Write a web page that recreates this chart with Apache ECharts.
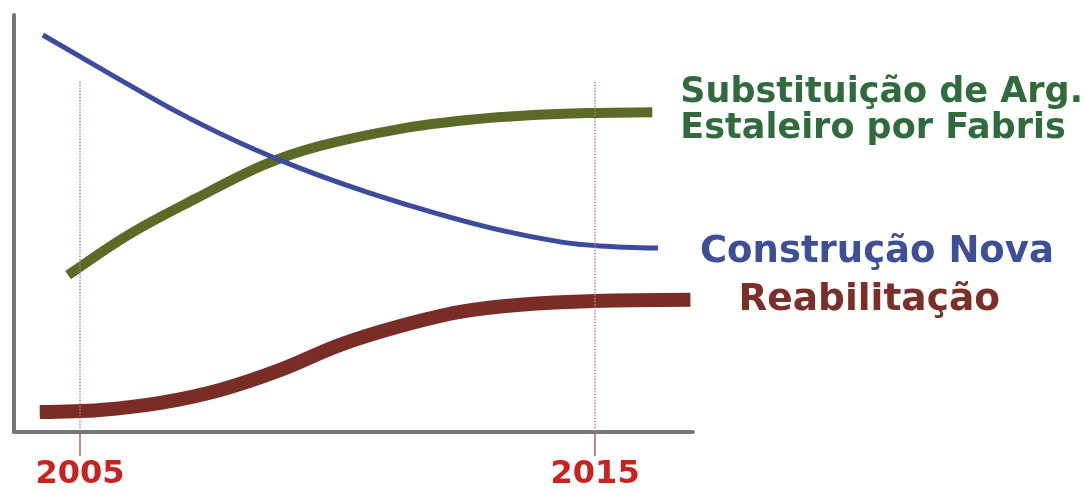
<!DOCTYPE html>
<html>
<head>
<meta charset="utf-8">
<title>Construção</title>
<script src="https://cdn.jsdelivr.net/npm/echarts@6/dist/echarts.min.js"></script>
<style>
    html, body { margin: 0; padding: 0; background: #fff; }
    #chart { width: 1086px; height: 491px; }
</style>
</head>
<body>
<div id="chart"></div>
<script>
// 数据
const tickYears = [2005, 2015];

const novaYears = [2004.28, 2005.58, 2006.85, 2008.11, 2009.37, 2010.63, 2011.90, 2013.16, 2014.32, 2015.10, 2016.22];
const novaValues = [95.2, 85.9, 77.0, 69.3, 62.8, 57.3, 52.5, 48.4, 45.6, 44.6, 44.1];

const substYears = [2004.77, 2005.97, 2007.27, 2008.56, 2009.66, 2011.22, 2012.52, 2013.80, 2014.96, 2016.11];
const substValues = [37.6, 47.5, 56.1, 64.0, 68.6, 72.7, 74.8, 76.0, 76.5, 76.7];

const reabYears = [2004.22, 2005.39, 2006.56, 2007.72, 2008.89, 2010.05, 2011.22, 2012.38, 2013.55, 2015.0, 2016.85];
const reabValues = [4.8, 5.3, 7.0, 10.1, 14.9, 20.9, 25.4, 28.8, 30.5, 31.4, 31.7];

const refTop = 84;

function pairs(xs, ys) {
    return xs.map((x, i) => [x, ys[i]]);
}

const chart = echarts.init(document.getElementById('chart'));

function labelFont(size) {
    return {
        fontFamily: 'DejaVu Sans',
        fontWeight: 'bold',
        fontSize: size,
        lineHeight: 36
    };
}

const option = {
    animation: false,
    grid: { left: 14, top: 15, right: 393, bottom: 59 },
    xAxis: {
        type: 'value',
        min: 2003.72,
        max: 2016.9,
        axisLine: { lineStyle: { color: '#777', width: 4 } },
        axisTick: {
            show: true,
            customValues: tickYears,
            length: 24,
            lineStyle: { color: '#b06060', width: 1.5 }
        },
        axisLabel: {
            customValues: tickYears,
            formatter: v => String(v),
            color: '#c8231e',
            fontFamily: 'DejaVu Sans',
            fontWeight: 'bold',
            fontSize: 32,
            margin: 27
        },
        splitLine: { show: false }
    },
    yAxis: {
        type: 'value',
        min: 0,
        max: 100,
        axisLine: { show: true, lineStyle: { color: '#777', width: 4 } },
        axisTick: { show: false },
        axisLabel: { show: false },
        splitLine: { show: false }
    },
    series: [
        {
            name: 'Reabilitação',
            type: 'line',
            smooth: 0.35,
            showSymbol: false,
            data: pairs(reabYears, reabValues),
            lineStyle: { color: '#7a2d26', width: 14, cap: 'butt' },
            endLabel: {
                show: true,
                formatter: '{a}',
                color: '#7a3029',
                offset: [40, 0],
                ...labelFont(37.5)
            },
            markLine: {
                silent: true,
                symbol: 'none',
                label: { show: false },
                lineStyle: { color: '#c07a80', type: 'dotted', width: 1.5 },
                data: tickYears.map(y => [{ coord: [y, refTop] }, { coord: [y, 0] }])
            },
            z: 1
        },
        {
            name: 'Construção Nova',
            type: 'line',
            smooth: 0.35,
            showSymbol: false,
            data: pairs(novaYears, novaValues),
            lineStyle: { color: '#3b4b9e', width: 5, cap: 'butt' },
            endLabel: {
                show: true,
                formatter: '{a}',
                color: '#3e4f97',
                offset: [34, 4],
                ...labelFont(37)
            },
            z: 3
        },
        {
            name: 'Substituição de Arg.\nEstaleiro por Fabris',
            type: 'line',
            smooth: 0.35,
            showSymbol: false,
            data: pairs(substYears, substValues),
            lineStyle: { color: '#5b6b27', width: 10, cap: 'butt' },
            endLabel: {
                show: true,
                formatter: '{a}',
                color: '#2f6b3c',
                offset: [20, -1],
                ...labelFont(35)
            },
            z: 2
        }
    ]
};

chart.setOption(option);
</script>
</body>
</html>
